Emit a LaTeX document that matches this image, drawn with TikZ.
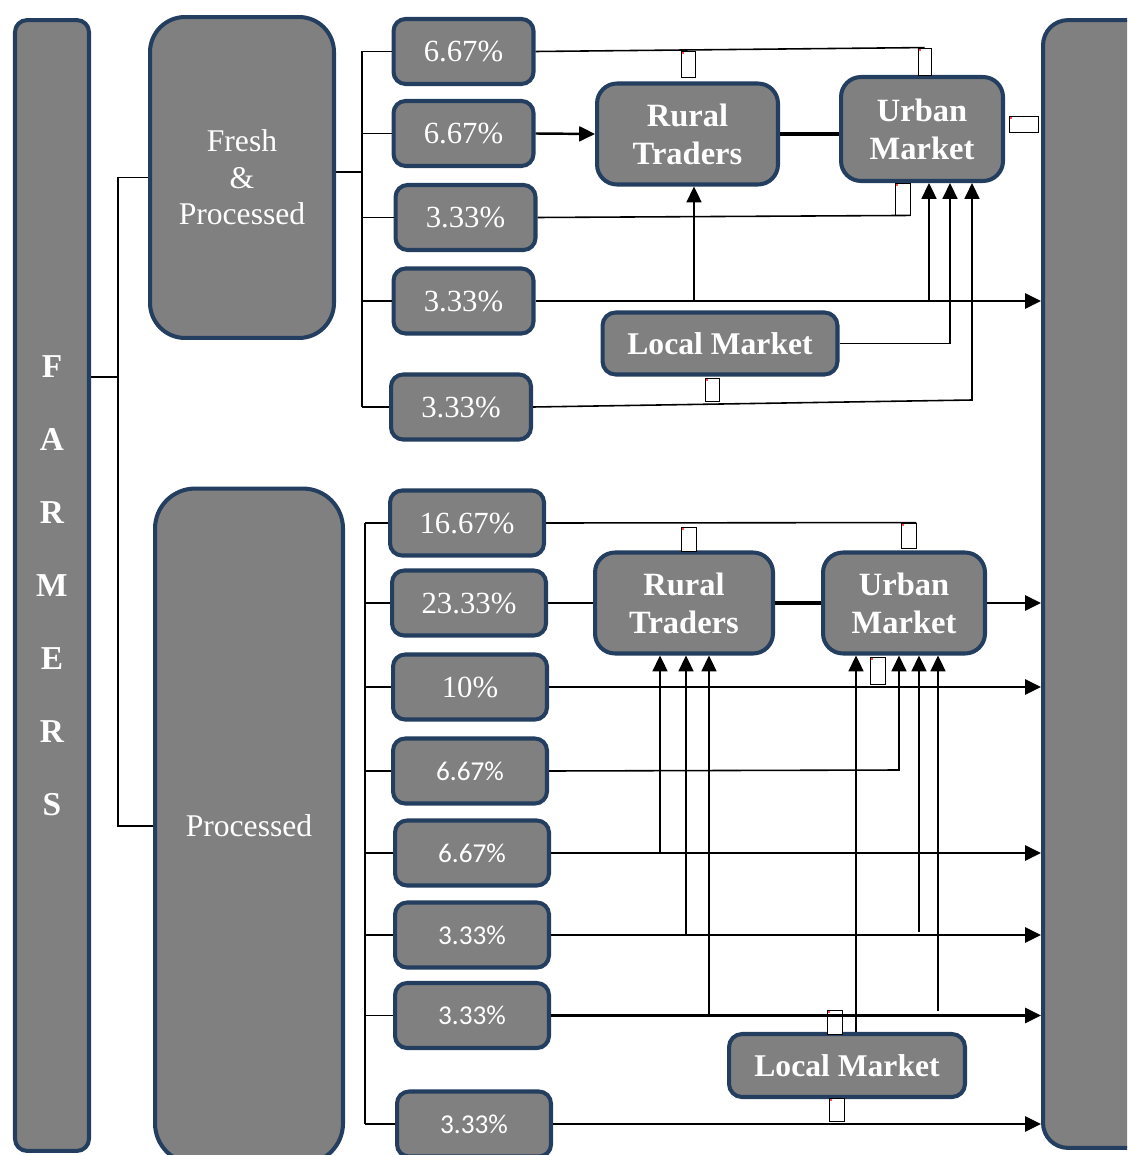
\documentclass[tikz,border=0pt]{standalone}
\usepackage{fontspec}
\setmainfont{Liberation Serif}
\newfontfamily\calibri{Carlito}
\usetikzlibrary{arrows.meta}

\definecolor{boxgray}{RGB}{128,128,128}
\definecolor{boxblue}{RGB}{36,62,96}

\tikzset{
  box/.style={draw=boxblue, fill=boxgray, line width=2.3pt, text=white, align=center, inner sep=0pt},
  pct/.style={box, rounded corners=0.24cm, minimum width=2.8cm, minimum height=1.3cm, font=\fontsize{17.5}{20}\selectfont},
  pctb/.style={pct, minimum width=3.08cm},
  pcts/.style={pctb, font=\calibri\fontsize{15.5}{18}\selectfont},
  trader/.style={box, rounded corners=0.4cm, minimum height=2.02cm, font=\bfseries\fontsize{18.5}{21.5}\selectfont},
  localbox/.style={box, rounded corners=0.26cm, minimum width=4.7cm, minimum height=1.24cm, font=\bfseries\fontsize{18}{21}\selectfont},
  bar/.style={box, minimum width=1.48cm},
  link/.style={line width=0.9pt},
  flow/.style={line width=1.4pt, -{Triangle[length=9pt,width=8.5pt]}},
  rise/.style={line width=1.1pt, -{Triangle[length=9pt,width=8.5pt]}},
  strong/.style={line width=2.8pt},
  noimg/.style={draw, fill=white, line width=0.5pt, inner sep=0pt,
    path picture={\fill[red!70!white] (path picture bounding box.north west) rectangle ++(3,3);}}
}

\begin{document}
\begin{tikzpicture}[x=0.02cm, y=-0.02cm]
\clip (0,0) rectangle (1127,1155);

\node[bar, minimum height=22.62cm, rounded corners=0.24cm, font=\bfseries\fontsize{19}{41.6}\selectfont] (farmers) at (52,585.5) {F\\A\\R\\M\\E\\R\\S};
\node[bar, minimum width=3.68cm, minimum height=6.42cm, rounded corners=0.7cm, font=\fontsize{18}{20.7}\selectfont] (fresh) at (242,177.5) {Fresh\\\&\\Processed};
\node[bar, minimum width=3.76cm, minimum height=13.5cm, rounded corners=0.8cm, font=\fontsize{18}{20.7}\selectfont] (proc) at (249,826) {Processed};
\node[bar, minimum width=2.4cm, minimum height=22.56cm, rounded corners=0.5cm] (market) at (1103,584) {};

% fresh & processed
\node[pct] (p1) at (463.5,51.5) {6.67\%};
\node[pct] (p2) at (463.5,133.5) {6.67\%};
\node[pct] (p3) at (465.5,217.5) {3.33\%};
\node[pct] (p4) at (463.5,301) {3.33\%};
\node[pct] (p5) at (461,407) {3.33\%};
\node[trader, minimum width=3.62cm] (rural1) at (687.5,134) {Rural\\Traders};
\node[trader, minimum width=3.24cm, minimum height=2.08cm] (urban1) at (922,129) {Urban\\Market};
\node[localbox] (local1) at (720,343.5) {Local Market};

% processed
\node[pctb] (q1) at (467,523) {16.67\%};
\node[pctb] (q2) at (469,603) {23.33\%};
\node[pctb] (q3) at (470,687) {10\%};
\node[pcts] (q4) at (470,771) {6.67\%};
\node[pcts] (q5) at (472,853) {6.67\%};
\node[pcts] (q6) at (472,935) {3.33\%};
\node[pcts] (q7) at (472,1015.5) {3.33\%};
\node[pcts] (q8) at (474,1124) {3.33\%};
\node[trader, minimum width=3.56cm] (rural2) at (684,603) {Rural\\Traders};
\node[trader, minimum width=3.24cm] (urban2) at (904,603) {Urban\\Market};
\node[localbox, minimum width=4.72cm, minimum height=1.26cm] (local2) at (847,1065.5) {Local Market};

% broken pictures
\node[noimg, minimum width=0.28cm, minimum height=0.52cm] (ph1) at (688,64) {};
\node[noimg, minimum width=0.26cm, minimum height=0.54cm] (ph2) at (924.5,61.5) {};
\node[noimg, minimum width=0.30cm, minimum height=0.64cm] (ph3) at (902.5,199) {};
\node[noimg, minimum width=0.58cm, minimum height=0.32cm] (ph4) at (1023.5,124) {};
\node[noimg, minimum width=0.28cm, minimum height=0.46cm] (ph5) at (712,389.5) {};
\node[noimg, minimum width=0.30cm, minimum height=0.48cm] (ph6) at (688.5,539) {};
\node[noimg, minimum width=0.30cm, minimum height=0.50cm] (ph7) at (908.5,535.5) {};
\node[noimg, minimum width=0.30cm, minimum height=0.54cm] (ph8) at (877.5,670.5) {};
\node[noimg, minimum width=0.30cm, minimum height=0.48cm] (ph9) at (834.5,1022) {};
\node[noimg, minimum width=0.30cm, minimum height=0.46cm] (ph10) at (836.5,1109.5) {};

\coordinate (fsplit) at (118,377);
\coordinate (tsplit) at (362,172);
\coordinate (bsplit) at (365,520);

\draw[link] (farmers.east |- fsplit) -- (fsplit);
\draw[link] (fresh.west) -| (fsplit) |- (proc.west);

\draw[link] (fresh.east |- tsplit) -- (tsplit);
\draw[link] (tsplit |- p1.west) -- (tsplit |- p5.west);
\foreach \n in {1,...,5}
  \draw[link] (p\n.west) -- (tsplit |- p\n.west);

\draw[link] (bsplit |- q1.west) -- (bsplit |- q8.west);
\foreach \n in {1,...,8}
  \draw[link] (q\n.west) -- (bsplit |- q\n.west);

% top flows
\coordinate (r4) at (694,301);
\coordinate (u4) at (929,301);
\coordinate (u5) at (972,400);
\coordinate (u6) at (950,0);
\draw[link] (p1.east) -- (ph2.north);
\draw[flow] (p2.east) -- (rural1.west);
\draw[strong] (rural1.east) -- (rural1.east -| urban1.west);
\draw[link] (p3.east) -- (ph3.south east);
\draw[flow] (p4.east) -- (p4.east -| market.west);
\draw[rise] (r4) -- (r4 |- rural1.south);
\draw[rise] (u4) -- (u4 |- urban1.south);
\draw[rise, line width=0.9pt] (local1.east) -| (u6 |- urban1.south);
\draw[rise, line width=0.9pt] (p5.east) -- (u5) -- (u5 |- urban1.south);

% bottom flows
\coordinate (u9) at (899,770);
\coordinate (r10) at (660,853);
\coordinate (r11) at (686,934);
\coordinate (u11) at (919,932);
\coordinate (r12) at (709,1014);
\coordinate (u12) at (938,1011);
\coordinate (u13) at (856,0);
\draw[link] (q1.east) -- (ph7.north east);
\draw[link] (q2.east) -- (rural2.west);
\draw[strong] (rural2.east) -- (urban2.west);
\draw[flow] (urban2.east) -- (urban2.east -| market.west);
\draw[flow] (q3.east) -- (q3.east -| market.west);
\draw[rise, line width=0.9pt] (q4.east) -- (u9) -- (u9 |- urban2.south);
\foreach \n in {5,...,8}
  \draw[flow] (q\n.east) -- (q\n.east -| market.west);
\draw[rise] (r10) -- (r10 |- rural2.south);
\draw[rise] (r11) -- (r11 |- rural2.south);
\draw[rise] (u11) -- (u11 |- urban2.south);
\draw[rise] (r12) -- (r12 |- rural2.south);
\draw[rise] (u12) -- (u12 |- urban2.south);
\draw[rise] (local2.north -| u13) -- (u13 |- urban2.south);
\end{tikzpicture}
\end{document}
